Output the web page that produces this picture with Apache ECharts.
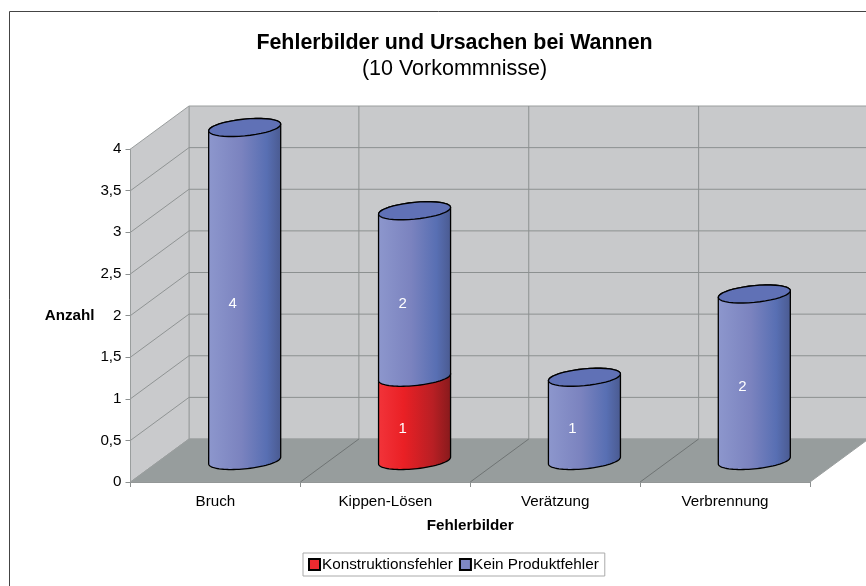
<!DOCTYPE html>
<html>
<head>
<meta charset="utf-8">
<title>Fehlerbilder und Ursachen bei Wannen</title>
<script src="https://cdn.jsdelivr.net/npm/echarts@6/dist/echarts.min.js"></script>
<style>
  html, body { margin: 0; padding: 0; background: #fff; overflow: hidden; }
  #chart { width: 866px; height: 586px; }
</style>
</head>
<body>
<div id="chart"></div>
<script>
var categories = ["Bruch", "Kippen-Lösen", "Verätzung", "Verbrennung"];
var konstruktionsfehler = [0, 1, 0, 0];
var keinProduktfehler = [4, 2, 1, 2];
var yTicks = [0, 0.5, 1, 1.5, 2, 2.5, 3, 3.5, 4];

// Tiefe der 3D-Box in Pixeln
var depthX = 58.5, depthY = -43;

var blueStops = [
   {offset: 0, color: "#8d97cd"},
   {offset: 0.45, color: "#7b83bf"},
   {offset: 0.8, color: "#586fb3"},
   {offset: 1, color: "#4a5a90"}
];
var redStops = [
   {offset: 0, color: "#f2343a"},
   {offset: 0.35, color: "#ea2025"},
   {offset: 0.75, color: "#b81f24"},
   {offset: 1, color: "#861a1c"}
];

var redData = konstruktionsfehler.map(function (v, i) {
   return [i, 0, v, v];
});
var blueData = keinProduktfehler.map(function (v, i) {
   return [i, konstruktionsfehler[i], konstruktionsfehler[i] + v, v];
});

function ellipsePoints(cx, cy, a, from, to) {
   var pts = [];
   var b = a * 0.233, shear = 0.093;
   for (var k = 0; k <= 40; k++) {
      var t = from + (to - from) * k / 40;
      pts.push([cx + a * Math.cos(t), cy + b * Math.sin(t) - shear * a * Math.cos(t)]);
   }
   return pts;
}

function renderWalls(params, api) {
   var sys = params.coordSys;
   var x0 = sys.x, x1 = sys.x + sys.width, y0 = sys.y, y1 = sys.y + sys.height;
   var children = [];
   function poly(points, fill) {
      children.push({type: "polygon", shape: {points: points}, style: {fill: fill, stroke: "#9a9e9e", lineWidth: 1}});
   }
   function line(ax, ay, bx, by, color) {
      children.push({type: "line", shape: {x1: ax, y1: ay, x2: bx, y2: by}, style: {stroke: color, lineWidth: 1}});
   }
   poly([[x0 + depthX, y0 + depthY], [x1 + depthX, y0 + depthY], [x1 + depthX, y1 + depthY], [x0 + depthX, y1 + depthY]], "#c8c9cb");
   poly([[x0, y0], [x0 + depthX, y0 + depthY], [x0 + depthX, y1 + depthY], [x0, y1]], "#c9cacc");
   poly([[x0, y1], [x0 + depthX, y1 + depthY], [x1 + depthX, y1 + depthY], [x1, y1]], "#979d9d");
   yTicks.forEach(function (v) {
      var y = api.coord([0, v])[1];
      if (v > 0 && v < 4) {
         line(x0, y, x0 + depthX, y + depthY, "#909494");
         line(x0 + depthX, y + depthY, x1 + depthX, y + depthY, "#8c9090");
      }
   });
   for (var i = 1; i < categories.length; i++) {
      var x = x0 + sys.width * i / categories.length;
      line(x, y1, x + depthX, y1 + depthY, "#6f7474");
      line(x + depthX, y1 + depthY, x + depthX, y0 + depthY, "#8c9090");
   }
   return {type: "group", children: children};
}

function makeCylinder(stops) {
   return function (params, api) {
      var value = api.value(3);
      if (!value) {
         return null;
      }
      var bottom = api.coord([api.value(0), api.value(1)]);
      var top = api.coord([api.value(0), api.value(2)]);
      var a = api.size([1, 0])[0] * 0.212;
      var cx = bottom[0] + depthX / 2;
      var cyB = bottom[1] + depthY / 2;
      var cyT = top[1] + depthY / 2;
      var body = ellipsePoints(cx, cyB, a, Math.PI, 0).concat(ellipsePoints(cx, cyT, a, 0, -Math.PI));
      return {
         type: "group",
         children: [{
            type: "polygon",
            shape: {points: body},
            style: {
               fill: {type: "linear", x: 0, y: 0, x2: 1, y2: 0, colorStops: stops},
               stroke: "#000",
               lineWidth: 1.3
            }
         }, {
            type: "polygon",
            shape: {points: ellipsePoints(cx, cyT, a, 0, Math.PI * 2)},
            style: {fill: "#6071b6", stroke: "#000", lineWidth: 1.3},
            invisible: stops === redStops
         }, {
            type: "text",
            x: cx - 12,
            y: (cyB + cyT) / 2 + 9.5,
            style: {
               text: String(value),
               fill: "#fff",
               font: "15px 'Liberation Sans', Arial, sans-serif",
               align: "center",
               verticalAlign: "middle"
            }
         }]
      };
   };
}

var fontName = "'Liberation Sans', Arial, sans-serif";

var chart = echarts.init(document.getElementById("chart"));
chart.setOption({
   animation: false,
   backgroundColor: "#fff",
   graphic: [{
      type: "rect",
      shape: {x: 9.5, y: 11.5, width: 900, height: 700},
      style: {fill: "none", stroke: "#444", lineWidth: 1},
      silent: true
   }],
   title: {
      text: "Fehlerbilder und Ursachen bei Wannen",
      subtext: "(10 Vorkommnisse)",
      left: 449.5,
      top: 28,
      textAlign: "center",
      itemGap: 4,
      textStyle: {fontFamily: fontName, fontWeight: "bold", fontSize: 21.4, color: "#000"},
      subtextStyle: {fontFamily: fontName, fontSize: 21.5, color: "#000"}
   },
   legend: {
      left: 303,
      top: 553,
      padding: [4, 6, 4, 5],
      itemGap: 6,
      itemWidth: 11,
      itemHeight: 11,
      borderColor: "#aaa",
      borderWidth: 1,
      icon: "rect",
      data: ["Konstruktionsfehler", "Kein Produktfehler"],
      textStyle: {fontFamily: fontName, fontSize: 15.3, color: "#000", padding: [0, 0, 0, -3]}
   },
   grid: {left: 130.5, right: 56, top: 149, bottom: 104},
   xAxis: {
      type: "category",
      data: categories,
      name: "Fehlerbilder",
      nameLocation: "middle",
      nameGap: 36,
      nameTextStyle: {fontFamily: fontName, fontWeight: "bold", fontSize: 15.2, color: "#000"},
      axisLine: {show: true, lineStyle: {color: "#8c9090"}},
      axisTick: {show: true, length: 5, lineStyle: {color: "#8c9090"}},
      axisLabel: {fontFamily: fontName, fontSize: 15.2, color: "#000", margin: 12}
   },
   yAxis: {
      type: "value",
      min: 0,
      max: 4,
      interval: 0.5,
      name: "Anzahl",
      nameLocation: "middle",
      nameRotate: 0,
      nameGap: 36,
      nameTextStyle: {fontFamily: fontName, fontWeight: "bold", fontSize: 15.2, color: "#000", padding: [6, 0, 0, 0]},
      splitLine: {show: false},
      axisLine: {show: true, lineStyle: {color: "#8c9090"}},
      axisTick: {show: true, length: 5, lineStyle: {color: "#8c9090"}},
      axisLabel: {
         fontFamily: fontName,
         fontSize: 15.2,
         color: "#000",
         margin: 9,
         padding: [2, 0, 0, 0],
         formatter: function (v) {
            return String(v).replace(".", ",");
         }
      }
   },
   series: [{
      name: "Wände",
      type: "custom",
      z: 1,
      silent: true,
      renderItem: renderWalls,
      data: [[0, 0]],
      encode: {x: 0, y: 1}
   }, {
      name: "Konstruktionsfehler",
      type: "custom",
      z: 3,
      renderItem: makeCylinder(redStops),
      itemStyle: {color: "#ee2a30", borderColor: "#000", borderWidth: 1},
      data: redData,
      encode: {x: 0, y: [1, 2]}
   }, {
      name: "Kein Produktfehler",
      type: "custom",
      z: 4,
      renderItem: makeCylinder(blueStops),
      itemStyle: {color: "#7f88c4", borderColor: "#000", borderWidth: 1},
      data: blueData,
      encode: {x: 0, y: [1, 2]}
   }]
});
</script>
</body>
</html>
